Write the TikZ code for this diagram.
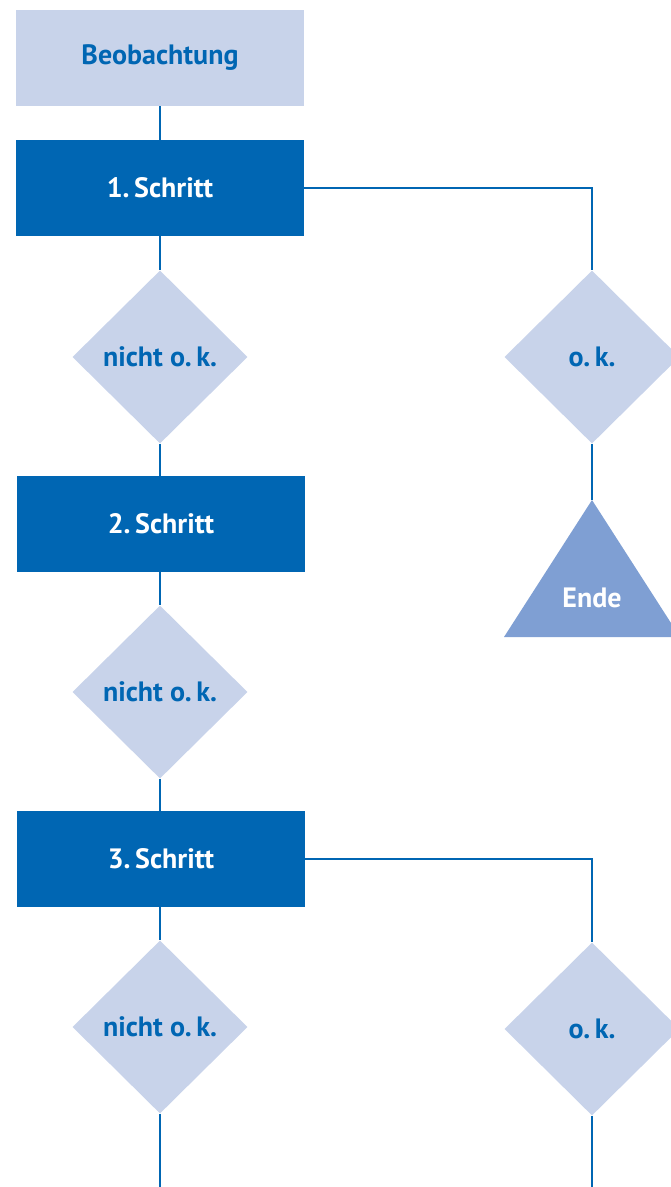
\documentclass[tikz,border=0pt]{standalone}
\usepackage{fontspec}
\setmainfont{PT Sans}
\usetikzlibrary{shapes.geometric}
\definecolor{dblue}{HTML}{0066B3}
\definecolor{lblue}{HTML}{C8D3EA}
\definecolor{mblue}{HTML}{7F9FD3}
\tikzset{
  lbl/.style={font=\fontsize{28}{32}\selectfont\bfseries},
  lightbox/.style={lbl, rectangle, fill=lblue, text=dblue, minimum width=288pt, minimum height=96pt, inner sep=0pt},
  darkbox/.style={lbl, rectangle, fill=dblue, text=white, minimum width=288pt, minimum height=96pt, inner sep=0pt},
  dec/.style={lbl, diamond, aspect=1, fill=lblue, text=dblue, minimum width=175pt, minimum height=173pt, inner sep=0pt},
  conn/.style={draw=dblue, line width=2.7pt},
  endtext/.style={lbl, text=white}
}
\begin{document}
\begin{tikzpicture}[x=1pt,y=-1pt]
\useasboundingbox (0,0) rectangle (671,1187);
\clip (0,0) rectangle (671,1187);
\node[lightbox] (beob) at (160,58) {Beobachtung};
\node[darkbox] (s1) at (160,188) {1.\,Schritt};
\node[dec] (n1) at (160,357) {nicht o.\,k.};
\node[dec] (ok1) at (592,357) {o.\,k.};
\fill[mblue] (592,500) coordinate (endetop) -- (680,637) -- (504,637) -- cycle;
\node[endtext] (ende) at (592,598) {Ende};
\node[darkbox] (s2) at (161,524) {2.\,Schritt};
\node[dec] (n2) at (160,692) {nicht o.\,k.};
\node[darkbox] (s3) at (161,859) {3.\,Schritt};
\node[dec] (n3) at (160,1027) {nicht o.\,k.};
\node[dec] (ok3) at (592,1029) {o.\,k.};
\coordinate (endL) at (160,1187);
\coordinate (endR) at (592,1187);
\draw[conn] (beob.south) -- (s1.north);
\draw[conn] (s1.south) -- (n1.north);
\draw[conn] (n1.south) -- (s2.north -| n1.south);
\draw[conn] (s2.south -| n2.north) -- (n2.north);
\draw[conn] (n2.south) -- (s3.north -| n2.south);
\draw[conn] (s3.south -| n3.north) -- (n3.north);
\draw[conn] (n3.south) -- (endL);
\draw[conn] (s1.east) -| (ok1.north);
\draw[conn] (ok1.south) -- (endetop);
\draw[conn] (s3.east) -| (ok3.north);
\draw[conn] (ok3.south) -- (endR);
\end{tikzpicture}
\end{document}
